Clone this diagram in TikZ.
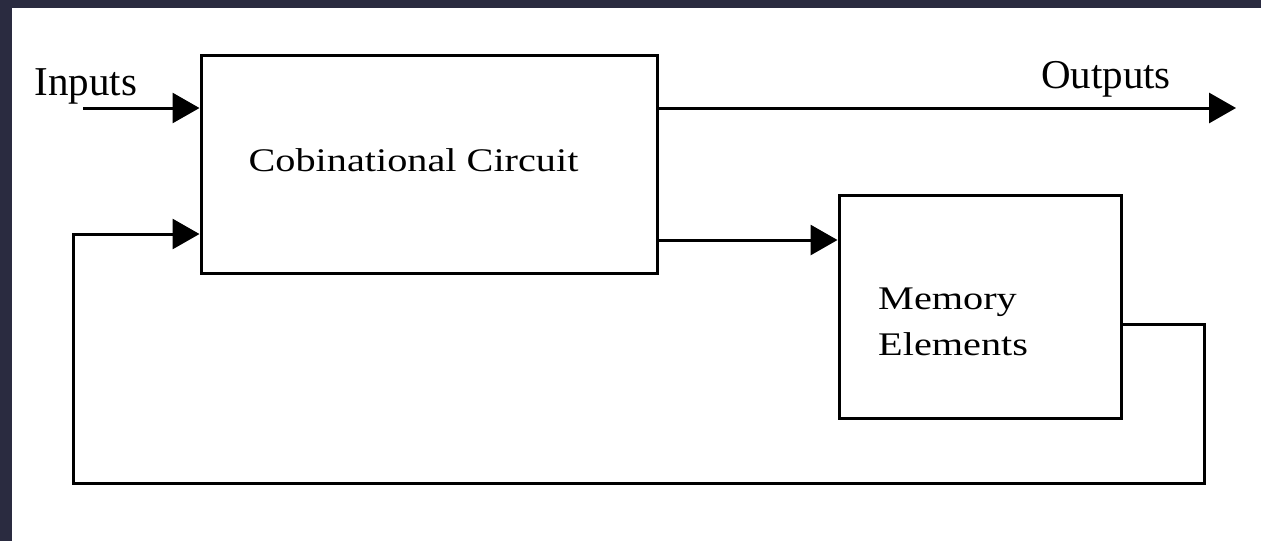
\documentclass[tikz,border=0pt]{standalone}
\usepackage{fontspec}
\setmainfont{Liberation Serif}
\usetikzlibrary{arrows.meta}
\definecolor{frame}{RGB}{42,43,64}
\begin{document}
\begin{tikzpicture}[x=1pt,y=-1pt,
  blk/.style={draw=black,line width=3pt,inner sep=0pt},
  wire/.style={draw=black,line width=3pt},
  arr/.style={wire,-{Triangle[length=27pt,width=30pt]}},
  lbl/.style={inner sep=0pt,anchor=base,font=\fontsize{41}{48}\selectfont},
  boxtxt/.style={inner sep=0pt,font=\fontsize{33}{46}\selectfont}]
\useasboundingbox (0,0) rectangle (1261,541);
\fill[white] (0,0) rectangle (1261,541);
\fill[frame] (0,0) rectangle (1261,8);
\fill[frame] (0,0) rectangle (12,541);
% blocks
\node[blk,minimum width=456pt,minimum height=218pt] (comb) at (429,164) {};
\node[blk,minimum width=282pt,minimum height=223pt] (mem) at (980,306.5) {};
% texts
\node[boxtxt,anchor=base] (combtxt) at (413.5,171) {\scalebox{1.22}[1]{Cobinational Circuit}};
\node[boxtxt,anchor=base west,align=left] (memtxt) at (878,355) {\scalebox{1.22}[1]{Memory}\\[0pt]\scalebox{1.22}[1]{Elements}};
\node[lbl] (intxt) at (86,95) {Inputs};
\node[lbl] (outtxt) at (1106,88) {Outputs};
% connectors
\coordinate (inS) at (83,108);
\draw[arr] (inS) -- (inS -| comb.west);
\coordinate (outE) at (1236,108);
\draw[arr] (comb.east |- outE) -- (outE);
\coordinate (midY) at (0,240);
\draw[arr] (comb.east |- midY) -- (mem.west |- midY);
\coordinate (fbA) at (1204,324);
\coordinate (fbB) at (1204,483);
\coordinate (fbC) at (73,483);
\coordinate (fbD) at (73,234);
\draw[arr] (mem.east |- fbA) -- (fbA) -- (fbB) -- (fbC) -- (fbD) -- (fbD -| comb.west);
\end{tikzpicture}
\end{document}
